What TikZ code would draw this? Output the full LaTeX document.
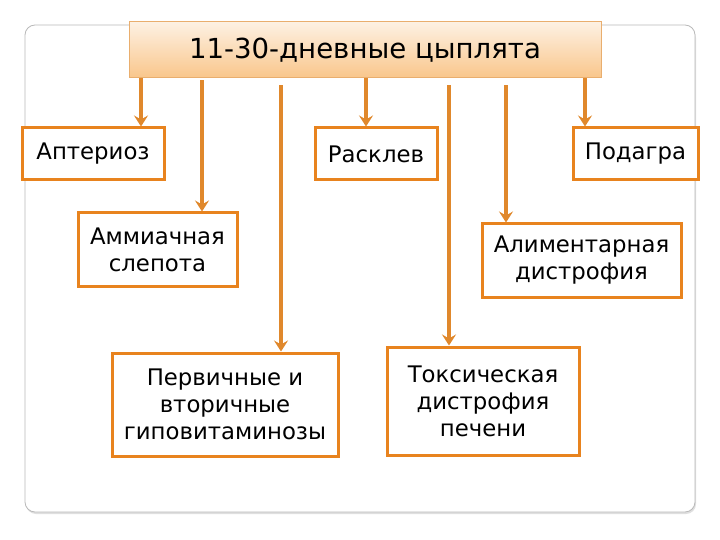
\documentclass[tikz,border=0pt]{standalone}
\usepackage{fontspec}
\setmainfont{DejaVu Sans}
\usetikzlibrary{arrows.meta,shadows}
\definecolor{orbord}{HTML}{E8831E}
\definecolor{orarr}{HTML}{E0882C}
\definecolor{toptop}{HTML}{FDF1E3}
\definecolor{topbot}{HTML}{F9C68B}
\definecolor{topline}{HTML}{E9AE6E}
\tikzset{
  box/.style={draw=orbord, line width=3pt, fill=white, align=center, inner sep=0pt,
    font=\fontsize{22.8}{27}\selectfont},
  arr/.style={draw=orarr, line width=3.2pt, -{Stealth[length=11pt,width=14pt,inset=4pt]}},
}
\begin{document}
\begin{tikzpicture}[x=1pt,y=-1pt]
\useasboundingbox (0,0) rectangle (720,540);
% background frame
\fill[gray!25, rounded corners=10pt] (26,28) rectangle (696,514);
\draw[gray!55, line width=0.8pt, fill=white, rounded corners=10pt] (25,25) rectangle (695,512);
% top box
\node[draw=topline, line width=1pt, top color=toptop, bottom color=topbot,
  minimum width=472pt, minimum height=56pt, inner sep=0pt,
  font=\fontsize{27.6}{30}\selectfont] (top) at (365,50) {11-30-дневные цыплята};
% boxes
\node[box, minimum width=142pt, minimum height=52pt] (apt) at (93,154) {Аптериоз};
\node[box, minimum width=122pt, minimum height=52pt] (ras) at (376,154) {Расклев};
\node[box, minimum width=125pt, minimum height=52pt] (pod) at (635.5,154) {Подагра};
\node[box, minimum width=159pt, minimum height=73pt] (amm) at (157.5,249.5) {Аммиачная\\слепота};
\node[box, minimum width=199pt, minimum height=73pt] (ali) at (581.5,260.5) {Алиментарная\\дистрофия};
\node[box, minimum width=226pt, minimum height=103pt] (per) at (225,404.5) {Первичные и\\вторичные\\гиповитаминозы};
\node[box, minimum width=192pt, minimum height=108pt] (tox) at (483,401) {Токсическая\\дистрофия\\печени};
% arrow x positions
\coordinate (x1) at (141,0);
\coordinate (x2) at (202,0);
\coordinate (x3) at (281,0);
\coordinate (x4) at (366,0);
\coordinate (x5) at (449,0);
\coordinate (x6) at (506,0);
\coordinate (x7) at (585,0);
\draw[arr] (top.south -| x1) -- (apt.north -| x1);
\draw[arr] ([yshift=-2pt]top.south -| x2) -- (amm.north -| x2);
\draw[arr] ([yshift=-7pt]top.south -| x3) -- (per.north -| x3);
\draw[arr] (top.south -| x4) -- (ras.north -| x4);
\draw[arr] ([yshift=-7pt]top.south -| x5) -- (tox.north -| x5);
\draw[arr] ([yshift=-7pt]top.south -| x6) -- (ali.north -| x6);
\draw[arr] (top.south -| x7) -- (pod.north -| x7);
\end{tikzpicture}
\end{document}
